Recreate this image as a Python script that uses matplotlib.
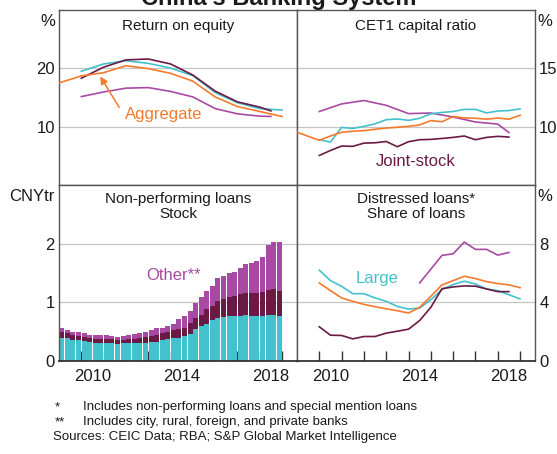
import numpy as np
import matplotlib.pyplot as plt

plt.rcParams['font.family'] = ['Liberation Sans', 'DejaVu Sans']

# ---------------- Colours ----------------
ORANGE = "#F57A2C"
CYAN = "#43C1CD"
MAROON = "#6B1A45"
PURPLE = "#A84AA3"
GRID = "#C4C4C4"
SPINE = "#555555"
TXT = "#1a1a1a"

# ---------------- Data ----------------
# Return on equity (%)
roe_agg_x = [2009.0, 2010.0, 2011.0, 2012.0, 2013.0, 2014.0, 2015.0, 2016.0, 2017.0, 2018.0, 2019.0]
roe_agg = [17.5, 18.7, 19.25, 20.45, 19.95, 19.15, 17.8, 15.1, 13.45, 12.6, 11.75]
roe_large_x = [2010, 2011, 2012, 2013, 2014, 2015, 2016, 2017, 2018, 2019]
roe_large = [19.5, 20.75, 21.3, 20.85, 20.05, 18.75, 15.85, 14.1, 13.1, 12.85]
roe_js_x = [2010, 2011, 2012, 2013, 2014, 2015, 2016, 2017, 2018, 2018.5]
roe_js = [18.3, 20.2, 21.45, 21.6, 20.75, 18.85, 16.1, 14.25, 13.35, 12.7]
roe_oth = [15.15, 15.95, 16.6, 16.7, 16.05, 15.1, 13.1, 12.2, 11.8, 11.75]

# CET1 capital ratio (%)
half_10_19 = np.arange(2010.0, 2019.01, 0.5)
cet_agg_x = [2009.0] + list(half_10_19)
cet_agg = [9.52, 8.83, 9.2, 9.52, 9.6, 9.66, 9.78, 9.88, 9.95, 10.03, 10.15,
           10.52, 10.42, 10.87, 10.75, 10.72, 10.64, 10.74, 10.64, 10.98]
cet_large = [8.88, 8.68, 9.94, 9.84, 10.03, 10.24, 10.6, 10.66, 10.54, 10.72,
             11.1, 11.22, 11.3, 11.48, 11.48, 11.18, 11.34, 11.38, 11.52]
cet_js = [7.53, 7.96, 8.34, 8.31, 8.59, 8.62, 8.73, 8.28, 8.71, 8.88, 8.91,
          8.99, 9.08, 9.2, 8.88, 9.08, 9.17, 9.11]
cet_oth_x = [2010, 2011, 2012, 2013, 2014, 2015, 2016, 2017, 2018, 2018.5]
cet_oth = [11.3, 11.95, 12.24, 11.83, 11.12, 11.17, 10.83, 10.4, 10.22, 9.5]

# Non-performing loans stock (CNY tr), quarterly 2009Q1-2018Q4
npl_q = np.arange(2009.0, 2019.0, 0.25) + 0.125
npl_large = [0.40, 0.39, 0.36, 0.36, 0.34, 0.32, 0.31, 0.31, 0.31, 0.31,
             0.29, 0.30, 0.30, 0.30, 0.31, 0.31, 0.33, 0.33, 0.36, 0.38,
             0.40, 0.40, 0.42, 0.46, 0.55, 0.60, 0.63, 0.70, 0.74, 0.75,
             0.77, 0.77, 0.77, 0.78, 0.76, 0.76, 0.77, 0.78, 0.78, 0.76]
npl_js = [0.10, 0.08, 0.08, 0.07, 0.07, 0.07, 0.07, 0.07, 0.07, 0.06,
          0.06, 0.06, 0.07, 0.08, 0.08, 0.10, 0.10, 0.12, 0.11, 0.12,
          0.12, 0.15, 0.15, 0.19, 0.18, 0.19, 0.26, 0.24, 0.29, 0.31,
          0.32, 0.34, 0.38, 0.38, 0.40, 0.40, 0.41, 0.43, 0.45, 0.44]
npl_oth = [0.06, 0.06, 0.06, 0.06, 0.06, 0.06, 0.06, 0.06, 0.06, 0.05,
           0.06, 0.07, 0.07, 0.08, 0.09, 0.09, 0.10, 0.11, 0.10, 0.10,
           0.11, 0.16, 0.20, 0.20, 0.26, 0.30, 0.30, 0.33, 0.38, 0.39,
           0.41, 0.41, 0.44, 0.49, 0.51, 0.55, 0.59, 0.76, 0.80, 0.82]

# Distressed loans, share of loans (%)
dis_agg = [5.32, 4.80, 4.30, 4.07, 3.86, 3.70, 3.56, 3.43, 3.27, 3.66, 4.41,
           5.19, 5.48, 5.78, 5.62, 5.41, 5.28, 5.19, 5.00]
dis_large = [6.19, 5.48, 5.09, 4.59, 4.59, 4.30, 4.07, 3.72, 3.54, 3.61, 4.18,
             4.87, 5.21, 5.44, 5.25, 4.91, 4.80, 4.52, 4.23]
dis_js = [2.33, 1.76, 1.74, 1.51, 1.67, 1.67, 1.90, 2.03, 2.17, 2.76, 3.66,
          4.93, 5.05, 5.12, 5.10, 4.91, 4.73, 4.73]
dis_oth_x = [2014.5, 2015.0, 2015.5, 2016.0, 2016.5, 2017.0, 2017.5, 2018.0, 2018.5]
dis_oth = [5.33, 6.26, 7.20, 7.31, 8.11, 7.61, 7.61, 7.22, 7.40]

year_labels = ["2010", "2014", "2018"]

# ---------------- Figure ----------------
fig = plt.figure(figsize=(5.57, 4.54), dpi=100)
L, W = 59 / 557, 238 / 557
ax_roe = fig.add_axes([L, (454 - 185) / 454, W, 175 / 454])
ax_cet = fig.add_axes([L + W, (454 - 185) / 454, W, 175 / 454])
ax_npl = fig.add_axes([L, (454 - 361) / 454, W, 176 / 454])
ax_dis = fig.add_axes([L + W, (454 - 361) / 454, W, 176 / 454])


def style(ax, ylim, yticks, right, bottom, title, unit, title_y):
    ax.set_xlim(2009.0, 2019.67)
    ax.set_ylim(*ylim)
    ax.set_yticks(yticks)
    for t in yticks:
        if t != ylim[0]:
            ax.axhline(t, color=GRID, lw=0.9, zorder=0.5)
    for s in ax.spines.values():
        s.set_color(SPINE)
        s.set_linewidth(1.0)
    if right:
        ax.yaxis.tick_right()
    ax.tick_params(axis="y", length=0, labelsize=12, pad=3, labelcolor=TXT)
    if bottom:
        ax.spines["bottom"].set_color("#333333")
        ax.spines["bottom"].set_linewidth(1.3)
        ax.set_xticks(range(2010, 2020))
        ax.set_xticks([2010.5, 2014.5, 2018.5], minor=True)
        ax.set_xticklabels(year_labels, minor=True)
        ax.tick_params(axis="x", which="major", direction="in", length=7,
                       width=1.0, color="#333333", labelbottom=False)
        ax.tick_params(axis="x", which="minor", length=0, labelsize=12,
                       pad=6, labelcolor=TXT)
    else:
        ax.tick_params(axis="x", which="both", bottom=False, labelbottom=False)
    ax.text(0.5, title_y, title, transform=ax.transAxes, ha="center", va="top",
            fontsize=11, color=TXT, linespacing=1.1)
    uy = 1 - 4 / 175
    if right:
        ax.text(1.012, uy, unit, transform=ax.transAxes, ha="left", va="top",
                fontsize=12, color=TXT)
    else:
        ax.text(-0.017, uy, unit, transform=ax.transAxes, ha="right", va="top",
                fontsize=12, color=TXT)


lw = 1.2

# Return on equity
style(ax_roe, (0, 30), [10, 20], False, False, "Return on equity", "%", 0.946)
ax_roe.plot(roe_large_x, roe_large, color=CYAN, lw=lw, zorder=3)
ax_roe.plot(roe_js_x, roe_js, color=MAROON, lw=lw, zorder=3)
ax_roe.plot(roe_js_x, roe_oth, color=PURPLE, lw=lw, zorder=3)
ax_roe.plot(roe_agg_x, roe_agg, color=ORANGE, lw=lw, zorder=4)
ax_roe.annotate("", xy=(2010.85, 18.6), xytext=(2011.7, 13.3),
                arrowprops=dict(arrowstyle="-|>", color=ORANGE, lw=1.1,
                                mutation_scale=11, shrinkA=0, shrinkB=0))
ax_roe.text(2013.7, 12.0, "Aggregate", color=ORANGE, fontsize=12,
            ha="center", va="center")

# CET1 capital ratio
style(ax_cet, (5, 20), [10, 15], True, False, "CET1 capital ratio", "%", 0.946)
ax_cet.plot(cet_oth_x, cet_oth, color=PURPLE, lw=lw, zorder=3)
ax_cet.plot(half_10_19, cet_large, color=CYAN, lw=lw, zorder=3)
ax_cet.plot(cet_agg_x, cet_agg, color=ORANGE, lw=lw, zorder=4)
ax_cet.plot(half_10_19[:len(cet_js)], cet_js, color=MAROON, lw=lw, zorder=3)
ax_cet.text(2014.3, 7.0, "Joint-stock", color=MAROON, fontsize=12,
            ha="center", va="center")

# Non-performing loans
style(ax_npl, (0, 3), [0, 1, 2], False, True, "Non-performing loans\nStock", "CNYtr", 0.958)
bw = 0.25 * 0.9
ax_npl.bar(npl_q, npl_large, width=bw, color=CYAN, zorder=2, lw=0)
ax_npl.bar(npl_q, npl_js, width=bw, bottom=npl_large, color=MAROON, zorder=2, lw=0)
ax_npl.bar(npl_q, npl_oth, width=bw, bottom=np.add(npl_large, npl_js),
           color=PURPLE, zorder=2, lw=0)
ax_npl.text(2014.15, 1.45, "Other**", color=PURPLE, fontsize=12,
            ha="center", va="center")

# Distressed loans
style(ax_dis, (0, 12), [0, 4, 8], True, True, "Distressed loans*\nShare of loans", "%", 0.958)
ax_dis.plot(dis_oth_x, dis_oth, color=PURPLE, lw=lw, zorder=3)
ax_dis.plot(half_10_19, dis_large, color=CYAN, lw=lw, zorder=3)
ax_dis.plot(half_10_19, dis_agg, color=ORANGE, lw=lw, zorder=4)
ax_dis.plot(half_10_19[:len(dis_js)], dis_js, color=MAROON, lw=lw, zorder=3)
ax_dis.text(2012.6, 5.6, "Large", color=CYAN, fontsize=12,
            ha="center", va="center")

# Title and notes
fig.text(0.5, 1 - 5.5 / 454, "China\u2019s Banking System", ha="center",
         va="baseline", fontsize=17, fontweight="bold", color=TXT)
notes = [("*", "Includes non-performing loans and special mention loans", 407),
         ("**", "Includes city, rural, foreign, and private banks", 422)]
for mark, note, ypx in notes:
    fig.text(55 / 557, 1 - ypx / 454, mark, ha="left", va="center", fontsize=9.5, color=TXT)
    fig.text(83 / 557, 1 - ypx / 454, note, ha="left", va="center", fontsize=9.5, color=TXT)
fig.text(53 / 557, 1 - 437 / 454, "Sources: CEIC Data; RBA; S&P Global Market Intelligence",
         ha="left", va="center", fontsize=9.5, color=TXT)

fig.savefig("out.png", dpi=100)
